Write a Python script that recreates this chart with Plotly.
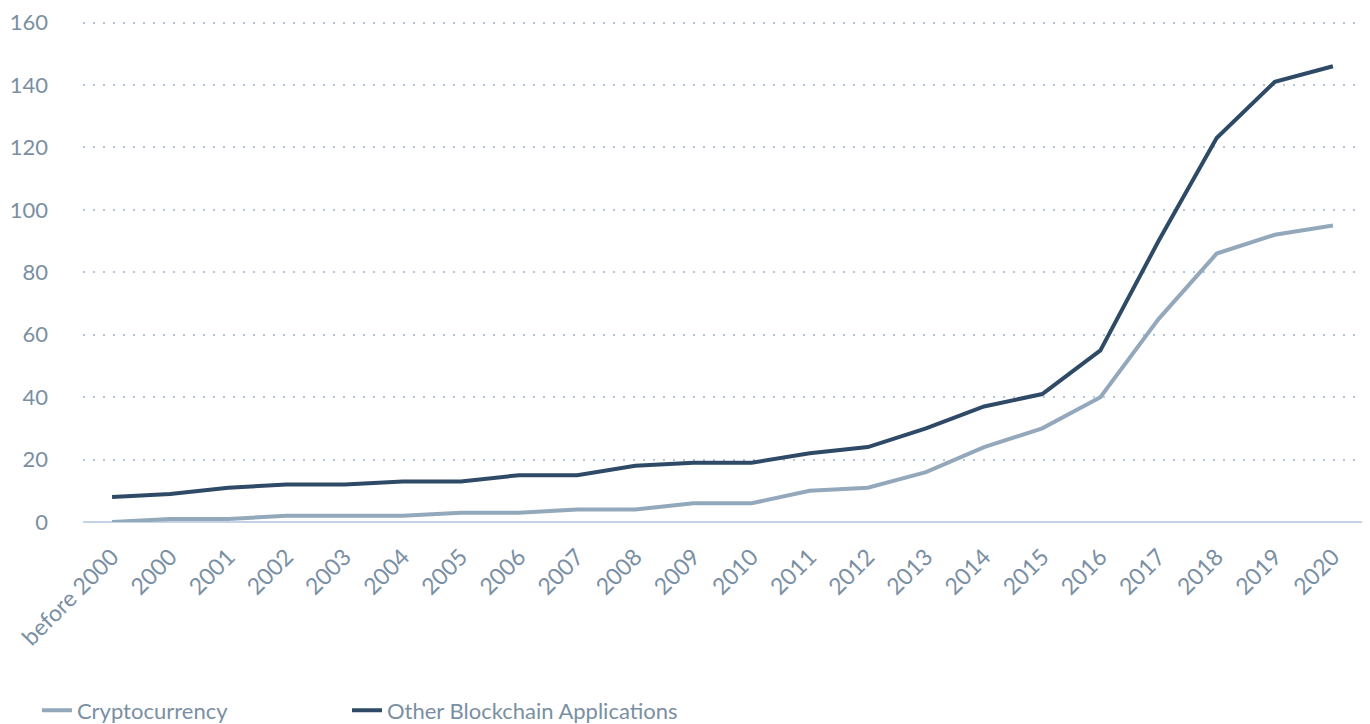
import plotly.graph_objects as go

years = ["before 2000"] + [str(y) for y in range(2000, 2021)]
crypto = [0, 1, 1, 2, 2, 2, 3, 3, 4, 4, 6, 6, 10, 11, 16, 24, 30, 40, 65, 86, 92, 95]
other = [8, 9, 11, 12, 12, 13, 13, 15, 15, 18, 19, 19, 22, 24, 30, 37, 41, 55, 90, 123, 141, 146]
yticks = [0, 20, 40, 60, 80, 100, 120, 140, 160]

font_color = "#7a8fa3"
fig = go.Figure()
fig.add_trace(go.Scatter(x=years, y=crypto, mode="lines", name="Cryptocurrency",
                         line=dict(color="#94a8bb", width=4), legend="legend"))
fig.add_trace(go.Scatter(x=years, y=other, mode="lines", name="Other Blockchain Applications",
                         line=dict(color="#2e4a66", width=4), legend="legend2"))

leg_common = dict(orientation="h", xanchor="left", y=-0.376, yanchor="middle",
                  font=dict(size=22, color=font_color), bgcolor="rgba(0,0,0,0)")

fig.update_layout(
    width=1362, height=716,
    margin=dict(l=75, r=8, t=13, b=202, autoexpand=False),
    paper_bgcolor="white", plot_bgcolor="white",
    font=dict(family="Lato, Noto Sans, sans-serif", size=22, color=font_color),
    showlegend=True,
    legend=dict(x=-0.036, **leg_common),
    legend2=dict(x=0.2064, **leg_common),
    xaxis=dict(type="category", range=[-0.5, 21.5], tickangle=-45, showgrid=False,
               automargin=False, ticklabelstandoff=16,
               ticks="", showline=False, zeroline=False, tickfont=dict(size=23, color=font_color)),
    yaxis=dict(range=[0, 160.5], tickvals=yticks, showgrid=True, gridcolor="#b4c5d8",
               griddash="2px,8px", gridwidth=2, zeroline=True, zerolinecolor="#c5d3e8",
               automargin=False,
               zerolinewidth=2, ticks="", ticklabelstandoff=34,
               tickfont=dict(size=22, color=font_color)),
)
fig.write_html("out.html")
